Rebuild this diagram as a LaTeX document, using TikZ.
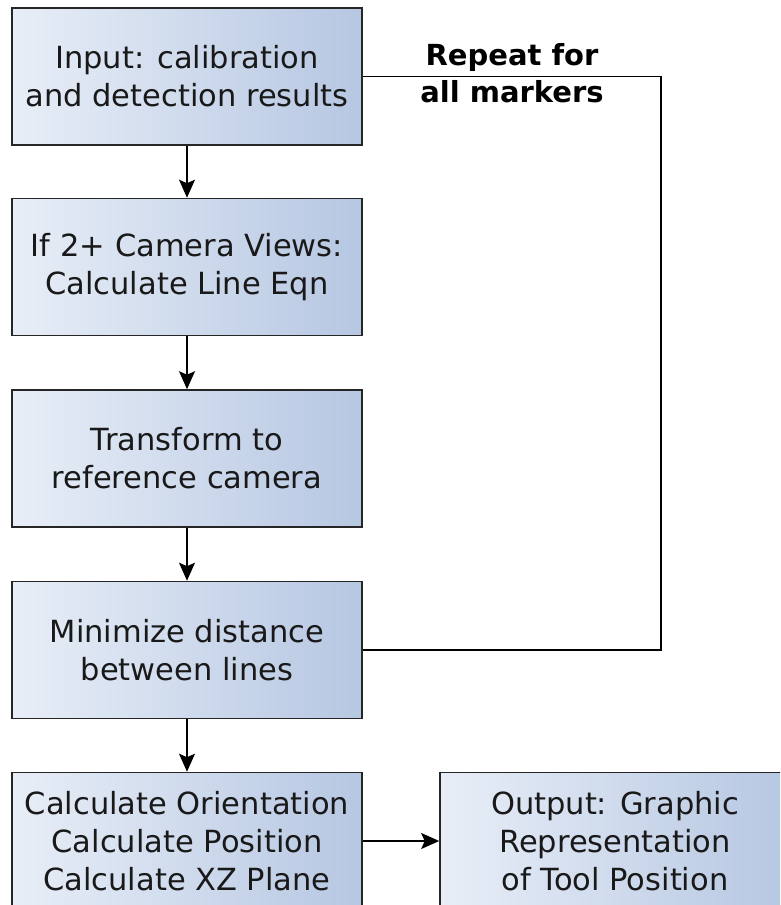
\documentclass[tikz,border=0pt]{standalone}
\usepackage{fontspec}
\setmainfont{DejaVu Sans}
\usetikzlibrary{arrows.meta}
\tikzset{
  flowbox/.style={draw=black!85, line width=1.6pt, left color=boxL, right color=boxR,
    minimum width=350pt, minimum height=137pt, inner sep=0pt, align=center,
    font=\fontsize{30.5}{38}\selectfont, text=black!90},
  flowarrow/.style={line width=1.4pt, -{Stealth[length=18pt,width=16pt,inset=3.5pt]}},
  loopline/.style={line width=1.4pt},
  looplabel/.style={align=center, font=\bfseries\fontsize{29}{37}\selectfont}
}
\definecolor{boxL}{HTML}{E8EEF7}
\definecolor{boxR}{HTML}{B6C7E2}
\begin{document}
\begin{tikzpicture}[x=1pt,y=-1pt]
\useasboundingbox (0,0) rectangle (780,905);
\clip (0,0) rectangle (780,905);
\fill[white] (0,0) rectangle (780,905);
\node[flowbox] (b1) at (187,76.5) {Input: calibration\\and detection results};
\node[flowbox] (b2) at (187,267) {If 2+ Camera Views:\\Calculate Line Eqn};
\node[flowbox] (b3) at (187,458.5) {Transform to\\reference camera};
\node[flowbox] (b4) at (187,650) {Minimize distance\\between lines};
\node[flowbox] (b5) at (187,841) {Calculate Orientation\\Calculate Position\\Calculate XZ Plane};
\node[flowbox] (b6) at (615,841) {Output: Graphic\\Representation\\of Tool Position};
\coordinate (c1) at (661,76.5);
\draw[loopline] (b1.east) -- (c1) |- (b4.east);
\node[looplabel] (lbl) at (512,73) {Repeat for\\all markers};
\draw[flowarrow] (b1.south) -- (b2.north);
\draw[flowarrow] (b2.south) -- (b3.north);
\draw[flowarrow] (b3.south) -- (b4.north);
\draw[flowarrow] (b4.south) -- (b5.north);
\draw[flowarrow] (b5.east) -- (b6.west);
\end{tikzpicture}
\end{document}
